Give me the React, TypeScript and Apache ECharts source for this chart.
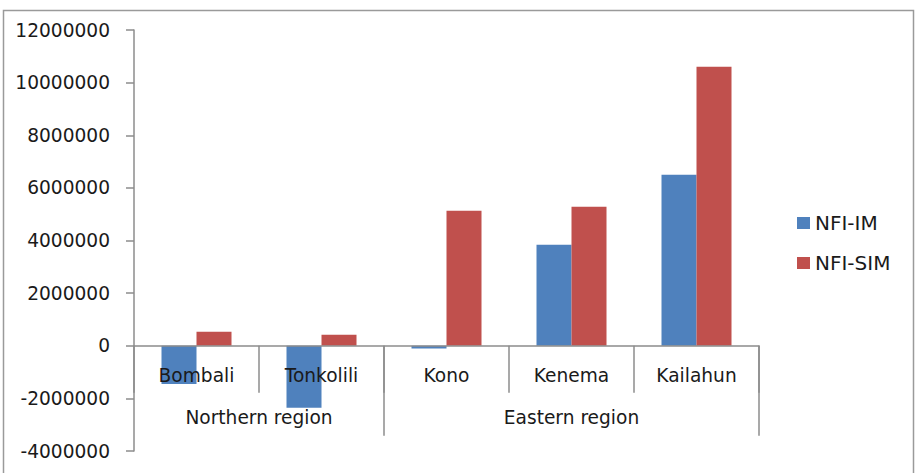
import React, { useEffect, useRef } from "react";
import * as echarts from "echarts";

const districts = ["Bombali", "Tonkolili", "Kono", "Kenema", "Kailahun"];
const regions = ["Northern region", "Eastern region"];
// region label positions (in category units 0..5) and region boundaries
const regionLabelAt = [1, 3.5];
const regionBoundaries = [2, 5];
const nfiIM = [-1450000, -2360000, -100000, 3840000, 6500000];
const nfiSIM = [530000, 420000, 5130000, 5280000, 10600000];
const yMin = -4000000;
const yMax = 12000000;
const yStep = 2000000;

const FONT = "DejaVu Sans";
const FS = 18.6;
const GRID_TOP = 30;
const GRID_BOTTOM = 22;
const CHART_H = 473;

export default function App() {
  const ref = useRef<HTMLDivElement>(null);
  useEffect(() => {
    if (!ref.current) return;
    const chart = echarts.init(ref.current, null, { renderer: "svg" });
    const plotH = CHART_H - GRID_TOP - GRID_BOTTOM;
    // distance from grid bottom to zero line, via the value range
    const zeroOffset = (plotH * (0 - yMin)) / (yMax - yMin);
    const gridBox = {
      left: 134,
      right: 158,
      top: GRID_TOP,
      bottom: GRID_BOTTOM,
      containLabel: false,
      outerBoundsMode: "none",
    };
    chart.setOption({
      animation: false,
      textStyle: { fontFamily: FONT },
      grid: [gridBox, { ...gridBox }],
      legend: {
        orient: "vertical",
        left: 792,
        top: 208,
        itemWidth: 13,
        itemHeight: 12,
        itemGap: 20,
        icon: "rect",
        textStyle: { fontFamily: FONT, fontSize: 20, color: "#1a1a1a" },
        data: ["NFI-IM", "NFI-SIM"],
      },
      xAxis: [
        {
          gridIndex: 0,
          type: "category",
          data: districts,
          position: "bottom",
          offset: -zeroOffset,
          z: 10,
          axisLine: { onZero: false, lineStyle: { color: "#8c8c8c", width: 1.5 } },
          axisTick: { show: true, length: 47, lineStyle: { color: "#8c8c8c", width: 1.5 } },
          axisLabel: { fontFamily: FONT, fontSize: FS, color: "#1a1a1a", margin: 20, interval: 0 },
        },
        {
          gridIndex: 1,
          type: "value",
          min: 0,
          max: 5,
          position: "bottom",
          offset: -zeroOffset,
          axisLine: { show: false, onZero: false },
          splitLine: { show: false },
          axisTick: {
            show: true,
            length: 90,
            customValues: regionBoundaries,
            lineStyle: { color: "#8c8c8c", width: 1.5 },
          },
          axisLabel: {
            fontFamily: FONT,
            fontSize: FS,
            color: "#1a1a1a",
            margin: 62,
            customValues: regionLabelAt,
            formatter: (v: number) => {
              const i = regionLabelAt.indexOf(v);
              return i >= 0 ? regions[i] : "";
            },
          },
        },
      ],
      yAxis: [
        {
          gridIndex: 0,
          type: "value",
          min: yMin,
          max: yMax,
          interval: yStep,
          axisLine: { show: true, lineStyle: { color: "#8c8c8c", width: 1.5 } },
          axisTick: { show: true, length: 8, lineStyle: { color: "#8c8c8c", width: 1.5 } },
          splitLine: { show: false },
          axisLabel: {
            fontFamily: FONT,
            fontSize: FS,
            color: "#1a1a1a",
            margin: 24,
            formatter: (v: number) => String(v),
          },
        },
        {
          gridIndex: 1,
          type: "value",
          min: yMin,
          max: yMax,
          show: false,
        },
      ],
      series: [
        {
          name: "NFI-IM",
          type: "bar",
          xAxisIndex: 0,
          yAxisIndex: 0,
          data: nfiIM,
          itemStyle: { color: "#4F81BD" },
          barGap: "0%",
          barCategoryGap: "44%",
        },
        {
          name: "NFI-SIM",
          type: "bar",
          xAxisIndex: 0,
          yAxisIndex: 0,
          data: nfiSIM,
          itemStyle: { color: "#C0504D" },
          barGap: "0%",
          barCategoryGap: "44%",
        },
      ],
      graphic: [
        {
          type: "rect",
          shape: { x: 3.5, y: 10.5, width: 910, height: 480 },
          style: { fill: "none", stroke: "#9a9a9a", lineWidth: 1.5 },
          silent: true,
        },
      ],
    });
    return () => chart.dispose();
  }, []);
  return (
    <div
      ref={ref}
      style={{ position: "absolute", left: 0, top: 0, width: 917, height: CHART_H }}
    />
  );
}
